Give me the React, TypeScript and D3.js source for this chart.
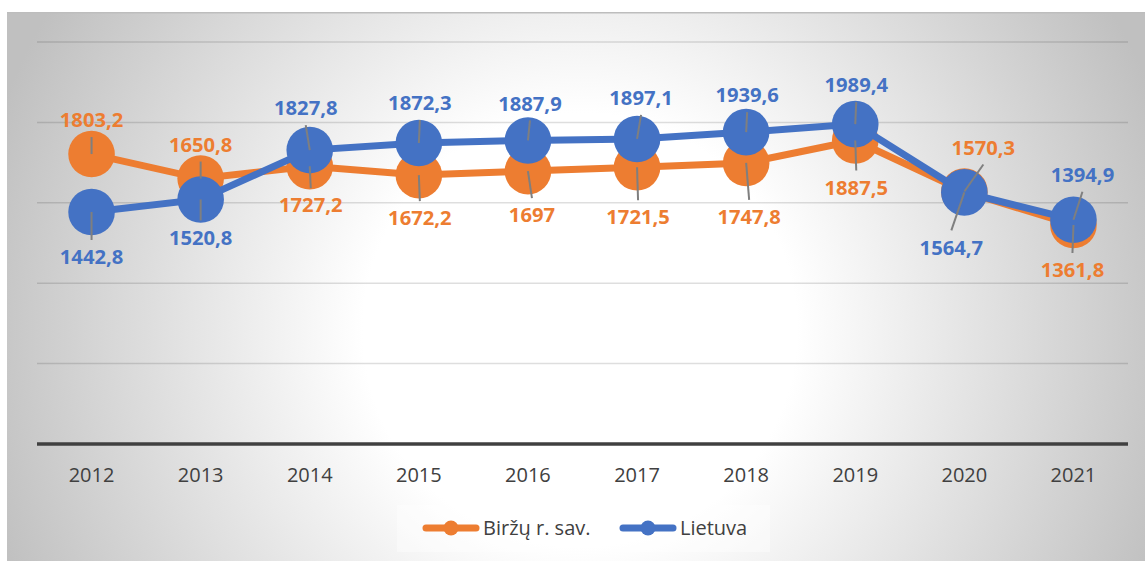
import React from "react";
import * as d3 from "d3";

const years = ["2012", "2013", "2014", "2015", "2016", "2017", "2018", "2019", "2020", "2021"];
const birzai = [1803.2, 1650.8, 1727.2, 1672.2, 1697, 1721.5, 1747.8, 1887.5, 1570.3, 1361.8];
const lietuva = [1442.8, 1520.8, 1827.8, 1872.3, 1887.9, 1897.1, 1939.6, 1989.4, 1564.7, 1394.9];
const yTicks = [0, 500, 1000, 1500, 2000, 2500];

// label placement offsets (layout, dx/dy from point)
const birzaiLabelOffsets: [number, number][] = [
  [0, -34], [0, -34], [1, 39], [1, 43], [4, 44], [1, 50], [3, 54], [1, 47], [19, -44], [-1, 45],
];
const lietuvaLabelOffsets: [number, number][] = [
  [0, 45], [0, 38], [-4, -42], [1, -40], [2, -37], [4, -41], [1, -37], [1, -39], [-13, 55], [9, -45],
];

const W = 1145;
const H = 561;
const ORANGE = "#ED7D31";
const BLUE = "#4472C4";
const FONT = "'Open Sans', sans-serif";

function fmt(v: number) {
  return String(v).replace(".", ",");
}

export default function App() {
  const x = d3.scaleBand<string>().domain(years).range([37, 1128]);
  const y = d3.scaleLinear().domain([0, 2500]).range([444, 42]);
  const cx = (d: string) => (x(d) as number) + x.bandwidth() / 2;

  const line = d3
    .line<number>()
    .x((_, i) => cx(years[i]))
    .y((v) => y(v));

  const series = [
    { name: "Biržų r. sav.", values: birzai, color: ORANGE, offsets: birzaiLabelOffsets },
    { name: "Lietuva", values: lietuva, color: BLUE, offsets: lietuvaLabelOffsets },
  ];

  return (
    <svg
      width={W}
      height={H}
      style={{ position: "absolute", left: 0, top: 0 }}
      fontFamily={FONT}
    >
      <defs>
        <radialGradient id="bg" gradientUnits="userSpaceOnUse" cx={580} cy={330} r={620}>
          <stop offset="0" stopColor="#ffffff" />
          <stop offset="0.35" stopColor="#ffffff" />
          <stop offset="1" stopColor="#c0c0c0" />
        </radialGradient>
      </defs>
      <rect x={0} y={0} width={W} height={H} fill="#ffffff" />
      <rect x={7} y={12} width={W - 7} height={H - 12} fill="url(#bg)" />
      <line x1={7} x2={W} y1={12.75} y2={12.75} stroke="#bdbdbd" strokeWidth={1.5} />

      {/* gridlines */}
      {yTicks
        .filter((t) => t > 0)
        .map((t) => (
          <line
            key={t}
            x1={37}
            x2={1128}
            y1={y(t)}
            y2={y(t)}
            stroke="rgba(0,0,0,0.13)"
            strokeWidth={1.5}
          />
        ))}
      {/* axis */}
      <line x1={37} x2={1128} y1={y(0)} y2={y(0)} stroke="#404040" strokeWidth={3.5} />
      {years.map((yr) => (
        <text
          key={yr}
          x={cx(yr)}
          y={482}
          textAnchor="middle"
          fontSize={20}
          fill="#404040"
        >
          {yr}
        </text>
      ))}

      {/* series */}
      {series.map((s) => (
        <g key={s.name}>
          <path d={line(s.values) as string} fill="none" stroke={s.color} strokeWidth={7} />
          {s.values.map((v, i) => (
            <circle key={i} cx={cx(years[i])} cy={y(v)} r={23.3} fill={s.color} />
          ))}
        </g>
      ))}

      {/* leader lines */}
      {series.map((s) =>
        s.values.map((v, i) => {
          const px = cx(years[i]);
          const py = y(v);
          const [dx, dy] = s.offsets[i];
          const lx = px + dx;
          const ly = py + dy;
          const ey = ly + (dy > 0 ? -17 : 17);
          return (
            <line
              key={s.name + i}
              x1={px}
              y1={py}
              x2={lx}
              y2={ey}
              stroke="#7f7f7f"
              strokeWidth={2}
            />
          );
        })
      )}

      {/* labels */}
      {series.map((s) =>
        s.values.map((v, i) => {
          const px = cx(years[i]);
          const py = y(v);
          const [dx, dy] = s.offsets[i];
          return (
            <text
              key={s.name + "l" + i}
              x={px + dx}
              y={py + dy + 7.2}
              textAnchor="middle"
              fontSize={20.2}
              fontWeight={700}
              fill={s.color}
            >
              {fmt(v)}
            </text>
          );
        })
      )}

      {/* legend */}
      <rect x={397} y={505} width={373} height={47} fill="rgba(255,255,255,0.4)" />
      <g>
        <line x1={426} x2={476} y1={528} y2={528} stroke={ORANGE} strokeWidth={7} strokeLinecap="round" />
        <circle cx={451} cy={528} r={7.5} fill={ORANGE} />
        <text x={483} y={535} fontSize={20} fill="#404040">
          {series[0].name}
        </text>
        <line x1={623} x2={673} y1={528} y2={528} stroke={BLUE} strokeWidth={7} strokeLinecap="round" />
        <circle cx={648} cy={528} r={7.5} fill={BLUE} />
        <text x={680} y={535} fontSize={20} fill="#404040">
          {series[1].name}
        </text>
      </g>
    </svg>
  );
}
